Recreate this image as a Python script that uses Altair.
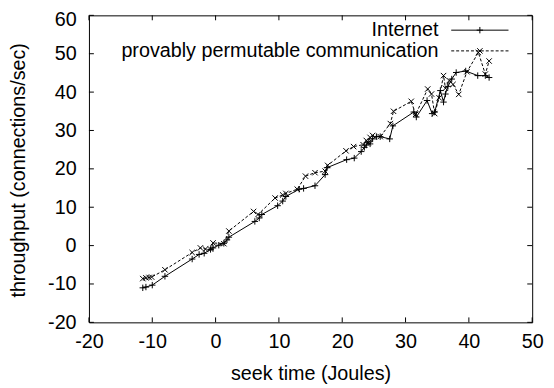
import altair as alt
import pandas as pd

# ---- data ----
inet_x = [-11.5, -11.0, -10.0, -8.0, -3.7, -2.6, -1.8, -0.8, -0.4, 0.5, 1.3, 1.8, 2.1,
          6.2, 6.9, 7.3, 9.8, 10.6, 11.1, 13.2, 13.9, 15.7, 17.3, 17.6, 20.7, 21.9,
          23.0, 23.5, 23.8, 24.1, 24.4, 24.8, 25.4, 26.0, 27.5, 28.0, 31.3, 31.7,
          33.4, 34.2, 34.6, 35.5, 36.0, 36.3, 36.7, 37.3, 38.0, 39.5, 41.4, 42.6, 43.2]
inet_y = [-11.0, -10.8, -10.3, -8.0, -3.5, -2.3, -2.0, -1.0, -0.6, 0.1, 0.6, 1.5, 2.2,
          6.3, 7.2, 8.1, 10.4, 11.6, 12.8, 14.7, 14.9, 15.6, 18.5, 20.3, 22.4, 22.8,
          24.5, 25.6, 26.2, 27.0, 26.5, 27.8, 28.4, 28.4, 27.8, 31.2, 34.8, 33.5,
          37.8, 34.4, 34.8, 40.4, 37.4, 39.5, 41.5, 43.4, 45.1, 45.5, 44.3, 44.3, 43.8]

ppc_x = [-11.5, -11.0, -10.5, -10.1, -8.0, -3.7, -2.4, -1.6, -0.8, -0.4, 1.3, 2.1,
         6.0, 6.7, 9.4, 10.6, 11.1, 12.9, 14.2, 15.7, 17.3, 17.7, 20.6, 21.8,
         23.3, 23.8, 24.1, 24.4, 24.8, 26.0, 27.6, 28.1, 30.9, 31.6, 33.5, 34.1,
         34.6, 35.3, 36.0, 36.3, 36.9, 37.5, 38.4, 39.7, 41.5, 42.6, 43.2]
ppc_y = [-8.6, -8.4, -8.3, -8.2, -6.3, -1.8, -0.6, -0.9, -0.9, 0.7, 0.5, 3.8,
         8.9, 8.1, 12.4, 13.2, 13.6, 14.7, 18.1, 19.0, 19.4, 20.9, 24.7, 25.8,
         26.3, 27.4, 26.8, 28.2, 28.7, 28.4, 31.8, 35.0, 37.6, 34.2, 40.8, 39.5,
         34.4, 38.5, 44.3, 41.0, 43.0, 42.0, 39.4, 45.3, 50.3, 44.7, 48.1]

series_names = ["Internet", "provably permutable communication"]
x_ticks = [-20, -10, 0, 10, 20, 30, 40, 50]
y_ticks = [-20, -10, 0, 10, 20, 30, 40, 50, 60]
x_title = "seek time (Joules)"
y_title = "throughput (connections/sec)"

# ---- styling ----
W, H = 449, 311
FONT = "Liberation Sans"
FS = 20
PLUS = "M-1,0L1,0M0,-1L0,1"
CROSS = "M-1,-1L1,1M-1,1L1,-1"
DASH = [3, 2]
TICK = 5

xs = alt.Scale(domain=[-20, 50], nice=False, zero=False)
ys = alt.Scale(domain=[-20, 60], nice=False, zero=False)

x_axis = alt.Axis(values=x_ticks, title=x_title, grid=False, domain=False, ticks=False,
                  labelExpr="datum.value + ''",
                  labelPadding=9, labelFont=FONT, labelFontSize=FS, labelColor="black",
                  titleFont=FONT, titleFontSize=FS, titleFontWeight="normal", titleColor="black",
                  titleY=52, titleBaseline="middle", labelFlush=False)
y_axis = alt.Axis(values=y_ticks, title=y_title, grid=False, domain=False, ticks=False,
                  labelExpr="datum.value + ''",
                  labelOffset={"condition": {"test": "datum.value == 60", "value": 4}, "value": 0},
                  labelPadding=13, labelFont=FONT, labelFontSize=FS, labelColor="black",
                  titleFont=FONT, titleFontSize=FS, titleFontWeight="normal", titleColor="black",
                  titleX=-71, titleY=H / 2 + 1, titleAngle=270, titleAlign="center",
                  titleBaseline="middle", labelFlush=False)

X = alt.X("x:Q", scale=xs, axis=x_axis, title=x_title)
Y = alt.Y("y:Q", scale=ys, axis=y_axis, title=y_title)

df_inet = pd.DataFrame({"x": inet_x, "y": inet_y, "i": range(len(inet_x))})
df_ppc = pd.DataFrame({"x": ppc_x, "y": ppc_y, "i": range(len(ppc_x))})

line_inet = alt.Chart(df_inet).mark_line(color="black", strokeWidth=1).encode(
    x=X, y=Y, order="i:Q")
pts_inet = alt.Chart(df_inet).mark_point(shape=PLUS, filled=False, color="black",
                                         size=42, strokeWidth=1, opacity=1).encode(x=X, y=Y)
line_ppc = alt.Chart(df_ppc).mark_line(color="black", strokeWidth=1, strokeDash=DASH).encode(
    x=X, y=Y, order="i:Q")
pts_ppc = alt.Chart(df_ppc).mark_point(shape=CROSS, filled=False, color="black",
                                       size=30, strokeWidth=1, opacity=1).encode(x=X, y=Y)

# inward ticks on all four sides (positions through the shared scales)
xt = pd.DataFrame({"x": x_ticks})
yt = pd.DataFrame({"y": y_ticks})
tick_b = alt.Chart(xt).mark_rule(color="black", strokeWidth=1).encode(
    x=X, y=alt.value(H), y2=alt.value(H - TICK))
tick_t = alt.Chart(xt).mark_rule(color="black", strokeWidth=1).encode(
    x=X, y=alt.value(0), y2=alt.value(TICK))
tick_l = alt.Chart(yt).mark_rule(color="black", strokeWidth=1).encode(
    y=Y, x=alt.value(0), x2=alt.value(TICK))
tick_r = alt.Chart(yt).mark_rule(color="black", strokeWidth=1).encode(
    y=Y, x=alt.value(W), x2=alt.value(W - TICK))

# key (top right, gnuplot style)
KX_TEXT, KX1, KX2 = 354, 367, 425
KY = [15, 36]
leg = []
for k, (name, shape, size, dash) in enumerate(zip(series_names, [PLUS, CROSS], [42, 30], [None, DASH])):
    d = pd.DataFrame({"t": [name]})
    leg.append(alt.Chart(d).mark_text(align="right", baseline="middle", font=FONT,
                                      fontSize=FS, color="black").encode(
        text="t:N", x=alt.value(KX_TEXT), y=alt.value(KY[k])))
    rule_kw = dict(color="black", strokeWidth=1)
    if dash:
        rule_kw["strokeDash"] = dash
    leg.append(alt.Chart(d).mark_rule(**rule_kw).encode(
        x=alt.value(KX1), x2=alt.value(KX2), y=alt.value(KY[k])))
    leg.append(alt.Chart(d).mark_point(shape=shape, filled=False, color="black", size=size,
                                       strokeWidth=1, opacity=1).encode(
        x=alt.value((KX1 + KX2) / 2), y=alt.value(KY[k])))

chart = alt.layer(line_inet, pts_inet, line_ppc, pts_ppc, tick_b, tick_t, tick_l, tick_r, *leg).properties(
    width=W, height=H,
    autosize=alt.AutoSizeParams(type="none"),
    padding={"left": 82, "top": 5, "right": 14, "bottom": 60},
    background="white",
).configure_view(stroke="black", strokeWidth=1)

chart.save("out.html", embed_options={"renderer": "svg", "actions": False})
